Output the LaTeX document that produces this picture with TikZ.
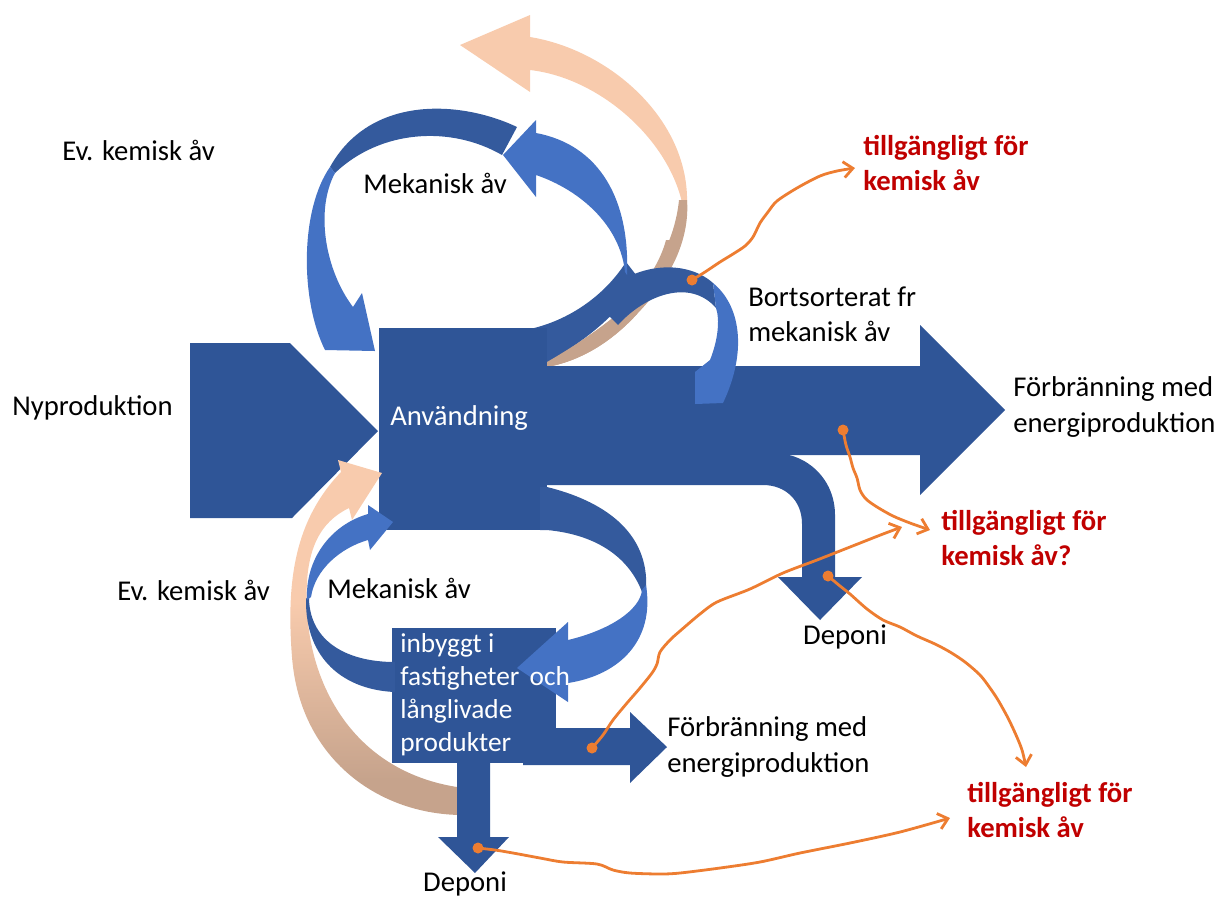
\documentclass[tikz,border=0pt]{standalone}
\usepackage{fontspec}
\setmainfont{Carlito}
\usetikzlibrary{arrows.meta}
\definecolor{mainblue}{HTML}{2F5597}
\definecolor{ribdark}{HTML}{345A9D}
\definecolor{riblight}{HTML}{4472C4}
\definecolor{peachc}{HTML}{F8CBAD}
\definecolor{tanc}{HTML}{C6A38C}
\definecolor{orangeline}{HTML}{ED7D31}
\definecolor{redtext}{HTML}{C00000}
\pgfdeclareverticalshading{peachtanlow}{100bp}{color(0bp)=(tanc); color(30bp)=(tanc); color(55bp)=(peachc); color(100bp)=(peachc)}
\begin{document}
\begin{tikzpicture}[x=0.75pt,y=-0.75pt,
  lbl/.style={inner sep=0pt, anchor=west, align=left, font=\fontsize{21.5}{26.5}\selectfont},
  wlbl/.style={lbl, text=white},
  rlbl/.style={lbl, text=redtext, font=\fontsize{21.5}{26.5}\selectfont\bfseries},
  oline/.style={draw=orangeline, line width=2.1pt, line cap=round, line join=round,
     -{Straight Barb[length=7pt,width=12pt,line width=2.1pt]}},
  odot/.style={fill=orangeline}]
\useasboundingbox (0,0) rectangle (1219,897);

% ---------- upper peach arrow ----------
\fill[peachc] (460,45) -- (530,15) -- (530,37)
  .. controls (610,50) and (690,120) .. (687,205) -- (683,207)
  .. controls (670,140) and (600,78) .. (530,70) -- (530,92) -- cycle;
\fill[tanc] (687,200) .. controls (690,240) and (670,280) .. (637,314)
  .. controls (615,338) and (585,360) .. (547,367) -- (547,362)
  .. controls (585,340) and (615,318) .. (628,304)
  .. controls (655,275) and (675,240) .. (679,200) -- cycle;

% ---------- upper loop (Mekanisk åv) ----------
\fill[ribdark] (517,127) .. controls (460,100) and (370,95) .. (330,167)
  -- (335,173) .. controls (380,130) and (450,125) .. (502,155) -- cycle;
\fill[riblight] (330,167) .. controls (300,210) and (300,300) .. (325,350)
  -- (375,351) -- (362,293) -- (353,307)
  .. controls (325,270) and (315,210) .. (335,173) -- cycle;
\fill[ribdark] (530,329) .. controls (570,320) and (605,295) .. (626,262)
  -- (640,280) .. controls (615,318) and (585,340) .. (547,363) -- (530,366) -- cycle;
\fill[riblight] (627,275) .. controls (630,200) and (600,145) .. (536,133)
  -- (536,120) -- (503,155) -- (536,197) -- (536,175)
  .. controls (580,190) and (620,225) .. (625,272) -- cycle;
% tan sliver over the dark part
\fill[tanc] (672,240) .. controls (665,265) and (655,285) .. (637,314)
  .. controls (615,338) and (585,360) .. (547,367) -- (547,362)
  .. controls (585,340) and (615,318) .. (628,304)
  .. controls (648,280) and (660,262) .. (666,240) -- cycle;

% ---------- Nyproduktion, Användning, big arrow ----------
\fill[mainblue] (190,343) -- (290,343) -- (378,431) -- (292,518) -- (190,518) -- cycle;
\fill[mainblue] (379,328) rectangle (547,530);
\fill[mainblue] (545,366) -- (920,366) -- (920,325) -- (1005,410) -- (920,495)
  -- (920,455) -- (545,455) -- cycle;

% ---------- Bortsorterat ribbon ----------
\fill[ribdark] (595,302) -- (618,325) .. controls (645,295) and (690,278) .. (716,308)
  -- (713,283) .. controls (685,258) and (630,262) .. (595,302) -- cycle;
\fill[riblight] (713,283) .. controls (740,305) and (748,350) .. (723,403)
  -- (695,404) -- (695,372) -- (710,360)
  .. controls (718,340) and (720,320) .. (716,308) -- cycle;

% ---------- upper Deponi bent arrow ----------
\fill[mainblue] (523,453) -- (773,453) .. controls (808,453) and (835,480) .. (835,515)
  -- (835,577) -- (862,577) -- (820,620) -- (778,577) -- (802,577) -- (802,524)
  .. controls (802,500) and (785,485) .. (763,485) -- (523,485) -- cycle;

% ---------- lower U loop ----------
\fill[ribdark] (540,487) -- (547,487) .. controls (600,500) and (650,530) .. (646,590)
  -- (642,592) .. controls (630,560) and (600,535) .. (547,530) -- (540,530) -- cycle;

% ---------- inbyggt box and its arrows ----------
\fill[mainblue] (392,628) rectangle (556,763);
\fill[mainblue] (523,728) -- (630,728) -- (630,712) -- (667,747) -- (630,783)
  -- (630,765) -- (523,765) -- cycle;

% lower peach arrow
\shade[shading=peachtanlow]
  (341,472) -- (338,460) -- (382,473) -- (352,520) -- (349,508)
  .. controls (320,522) and (304,550) .. (307,607)
  .. controls (309,680) and (350,770) .. (457,787) -- (463,815)
  .. controls (380,815) and (300,760) .. (292,657)
  .. controls (286,580) and (295,520) .. (341,472) -- cycle;

\fill[mainblue] (457,760) -- (490,760) -- (490,837) -- (509,837) -- (475,873)
  -- (438,837) -- (457,837) -- cycle;

\fill[riblight] (646,585) .. controls (655,640) and (620,675) .. (568,683)
  -- (568,702) -- (517,668) -- (568,622) -- (568,640)
  .. controls (610,630) and (640,610) .. (642,590) -- cycle;

\fill[ribdark] (395,662) .. controls (345,662) and (308,640) .. (309,595)
  -- (306,599) .. controls (305,660) and (345,690) .. (395,692) -- cycle;
\fill[riblight] (307,600) .. controls (305,560) and (330,525) .. (368,514)
  -- (368,505) -- (393,522) -- (370,550) -- (368,540)
  .. controls (340,548) and (315,570) .. (311,597) -- cycle;

% ---------- texts ----------
\node[lbl] (evtop) at (62,150) {Ev. kemisk åv};
\node[lbl] (mektop) at (363,183) {Mekanisk åv};
\node[lbl] (nypro) at (12,408) {Nyproduktion};
\node[wlbl] (anv) at (390,418) {Användning};
\node[lbl] (bort) at (748,314) {Bortsorterat fr\\mekanisk åv};
\node[lbl] (forb1) at (1013,407) {Förbränning med\\energiproduktion};
\node[rlbl] (till1) at (863,163) {tillgängligt för\\kemisk åv};
\node[rlbl] (till2) at (941,538) {tillgängligt för\\kemisk åv?};
\node[lbl, anchor=center] (dep1) at (845,637) {Deponi};
\node[lbl] (evbot) at (117,590) {Ev. kemisk åv};
\node[lbl] (mekbot) at (327,588) {Mekanisk åv};
\node[wlbl, font=\fontsize{20.5}{24.75}\selectfont] (inb) at (400,695) {inbyggt i\\fastigheter\hspace{3pt} och\\långlivade\\produkter};
\node[lbl] (forb2) at (667,747) {Förbränning med\\energiproduktion};
\node[rlbl] (till3) at (967,810) {tillgängligt för\\kemisk åv};
\node[lbl, anchor=center] (dep2) at (465,884) {Deponi};

% ---------- orange connectors ----------
\coordinate (o1s) at (692,280); \coordinate (o1e) at (855,168);
\coordinate (o2s) at (843,430); \coordinate (o2e) at (930,530);
\coordinate (o3s) at (592,748); \coordinate (o3e) at (902,527);
\coordinate (o4s) at (828,576); \coordinate (o4e) at (1026,767);
\coordinate (o5s) at (478,848); \coordinate (o5e) at (950,818);

\draw[oline] plot[smooth, tension=0.5] coordinates {(o1s) (705,272) (720,262) (733,254) (745,246) (753,237) (760,223) (768,212) (777,201) (797,188) (820,176) (837,171) (o1e)};
\draw[oline] plot[smooth, tension=0.5] coordinates {(o2s) (846,445) (850,457) (853,468) (857,478) (860,490) (866,499) (877,507) (893,516) (910,523) (o2e)};
\draw[oline] plot[smooth, tension=0.5] coordinates {(o3s) (603,735) (613,720) (627,703) (640,688) (652,673) (657,664) (660,652) (670,640) (680,631) (700,614) (717,602) (750,589) (783,573) (817,560) (850,547) (883,534) (o3e)};
\draw[oline] plot[smooth, tension=0.5] coordinates {(o4s) (840,586) (850,594) (867,609) (883,620) (900,627) (917,636) (935,644) (950,652) (965,662) (980,675) (990,688) (998,700) (1008,718) (1016,735) (1022,750) (o4e)};
\draw[oline] plot[smooth, tension=0.5] coordinates {(o5s) (495,850) (513,853) (540,858) (563,862) (597,864) (613,870) (630,873) (660,874) (680,873) (720,868) (760,862) (800,853) (850,843) (900,832) (o5e)};
\foreach \c in {o1s,o2s,o3s,o4s,o5s} \fill[odot] (\c) circle (5.5);
\end{tikzpicture}
\end{document}
